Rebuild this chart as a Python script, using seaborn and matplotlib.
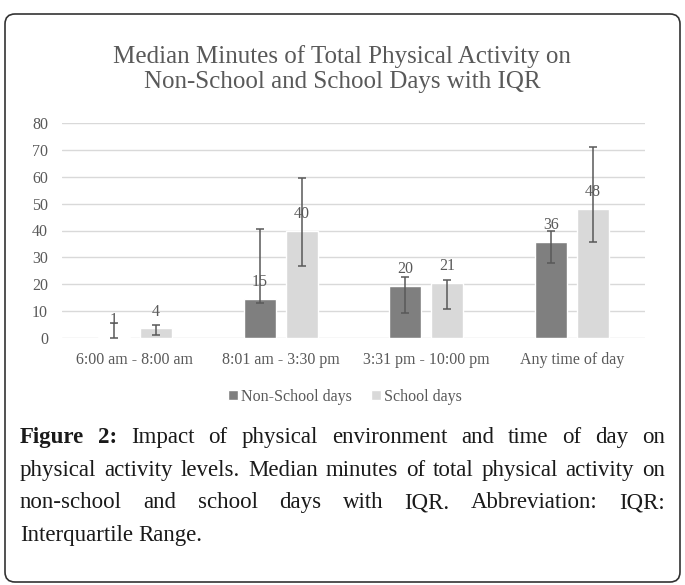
import matplotlib
matplotlib.use("Agg")
import matplotlib.pyplot as plt
import seaborn as sns
import pandas as pd
import numpy as np
from matplotlib.patches import FancyBboxPatch
from matplotlib.transforms import IdentityTransform

# ---------------- data ----------------
categories = ["6:00 am - 8:00 am", "8:01 am - 3:30 pm", "3:31 pm - 10:00 pm", "Any time of day"]
series_names = ["Non-School days", "School days"]
non_school_median = [0.5, 14.6, 19.5, 35.8]
school_median = [3.6, 40.0, 20.6, 48.1]
non_school_q1 = [0.0, 13.2, 9.4, 27.8]
non_school_q3 = [5.5, 40.5, 22.6, 39.9]
school_q1 = [1.0, 26.9, 10.8, 35.8]
school_q3 = [4.7, 59.6, 21.6, 70.9]
y_ticks = [0, 10, 20, 30, 40, 50, 60, 70, 80]

title = "Median Minutes of Total Physical Activity on\nNon-School and School Days with IQR"
caption_lines = [
    [("Figure", "bold"), ("2:", "bold"), ("Impact", "normal"), ("of", "normal"), ("physical", "normal"),
     ("environment", "normal"), ("and", "normal"), ("time", "normal"), ("of", "normal"), ("day", "normal"), ("on", "normal")],
    [(w, "normal") for w in "physical activity levels. Median minutes of total physical activity on".split()],
    [(w, "normal") for w in "non-school and school days with IQR. Abbreviation: IQR:".split()],
    [(w, "normal") for w in "Interquartile Range.".split()],
]
caption_justify = [True, True, True, False]

# ---------------- style ----------------
W, H = 685, 585
DARK = "#7f7f7f"
LIGHT = "#d9d9d9"
TXT = "#595959"
SERIF = ["Liberation Serif", "DejaVu Serif"]

sns.set_theme(style="white")
plt.rcParams["font.family"] = SERIF

fig = plt.figure(figsize=(W / 100, H / 100), dpi=100)
fig.patch.set_facecolor("white")

# outer rounded frame
frame = FancyBboxPatch((5, H - 582), 675, 568, boxstyle="round,pad=0,rounding_size=10",
                       transform=IdentityTransform(), facecolor="none", edgecolor="#333333", lw=1.2)
fig.add_artist(frame)

ax = fig.add_axes([62 / W, 1 - 338 / H, (645 - 62) / W, (338 - 123) / H])

df = pd.DataFrame({
    "period": categories * 2,
    "series": [series_names[0]] * 4 + [series_names[1]] * 4,
    "minutes": non_school_median + school_median,
})

sns.barplot(data=df, x="period", y="minutes", hue="series", order=categories,
            hue_order=series_names, palette=[DARK, LIGHT], width=0.577, gap=0.24,
            errorbar=None, saturation=1, ax=ax, legend=True)

bar_containers = list(ax.containers)
for cont, med, lo, hi in zip(bar_containers, [non_school_median, school_median],
                             [non_school_q1, school_q1], [non_school_q3, school_q3]):
    for bar, m, l, h in zip(cont, med, lo, hi):
        x = bar.get_x() + bar.get_width() / 2
        ax.errorbar(x, m, yerr=[[m - l], [h - m]], fmt="none", ecolor=TXT,
                    elinewidth=1.1, capsize=3, capthick=1.1, zorder=4)
        ax.annotate(f"{int(np.floor(m + 0.5))}", xy=(x, m), xytext=(0, 12),
                    textcoords="offset points", ha="center", va="center",
                    fontsize=11.5, color=TXT, zorder=5)

ax.set_ylim(0, 80)
ax.set_xlim(-0.5, 3.5)
ax.set_yticks(y_ticks)
ax.set_yticklabels([str(t) for t in y_ticks])
ax.yaxis.grid(True, color=LIGHT, lw=1)
ax.set_axisbelow(True)
for s in ax.spines.values():
    s.set_visible(False)
ax.set_xlabel("")
ax.set_ylabel("")
ax.tick_params(axis="both", length=0, labelsize=11.5, labelcolor=TXT)
ax.tick_params(axis="y", pad=10)
ax.tick_params(axis="x", pad=10)
ax.set_facecolor("none")

sns.move_legend(ax, "center", bbox_to_anchor=(345 / W, 1 - 397 / H),
                bbox_transform=fig.transFigure, ncol=2, frameon=False, title=None,
                fontsize=11.5, handlelength=0.6, handleheight=0.6, handletextpad=0.2,
                columnspacing=1.2, labelcolor=TXT)

fig.text(342 / W, 1 - 69 / H, title, ha="center", va="center", fontsize=18,
         color=TXT, linespacing=1.15)

# ---------------- caption (justified) ----------------
fig.canvas.draw()
renderer = fig.canvas.get_renderer()
CAP_FS = 16.5
left_px, right_px = 20, 665
line_base = [443, 476, 508, 541]


def word_width(word, weight):
    t = fig.text(0, 0, word, fontsize=CAP_FS, fontweight=weight)
    w = t.get_window_extent(renderer).width
    t.remove()
    return w

space_w = word_width("a b", "normal") - word_width("ab", "normal")

for words, just, yy in zip(caption_lines, caption_justify, line_base):
    widths = [word_width(w, wt) for w, wt in words]
    if just and len(words) > 1:
        gap = (right_px - left_px - sum(widths)) / (len(words) - 1)
    else:
        gap = space_w
    x = left_px
    for (w, wt), ww in zip(words, widths):
        fig.text(x / W, 1 - yy / H, w, fontsize=CAP_FS, fontweight=wt,
                 color="#1a1a1a", ha="left", va="baseline")
        x += ww + gap

fig.savefig("out.png", dpi=100)
